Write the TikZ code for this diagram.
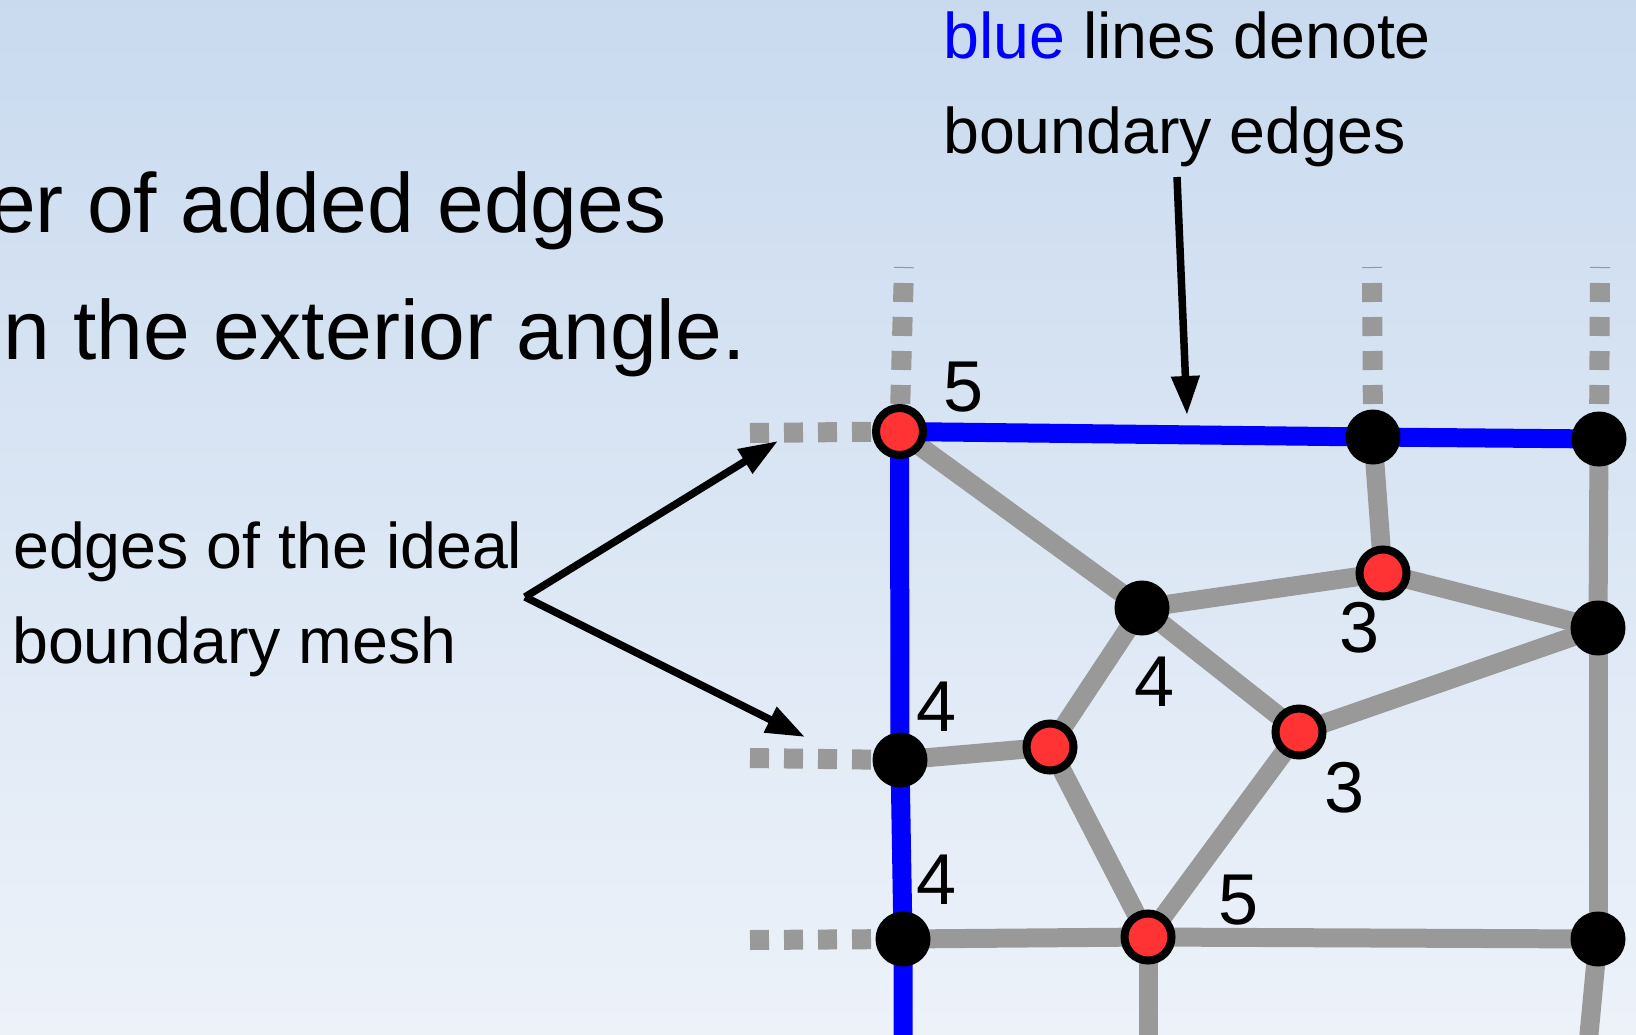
\documentclass[tikz,border=0pt]{standalone}
\usepackage{fontspec}
\setmainfont{Liberation Sans}
\usetikzlibrary{arrows.meta}
\definecolor{meshgray}{RGB}{153,153,153}
\definecolor{vtxred}{RGB}{255,51,51}
\definecolor{bdblue}{RGB}{0,0,255}
\definecolor{bgtop}{RGB}{201,218,239}
\definecolor{bgmid}{RGB}{223,231,242}
\definecolor{bgbot}{RGB}{237,242,249}
\pgfdeclarelayer{backdrop}
\pgfdeclarelayer{edges}
\pgfsetlayers{backdrop,edges,main}

\begin{document}
\begin{tikzpicture}[
    x=1pt, y=-1pt,
    black vtx/.style={circle, fill=black, inner sep=0pt, minimum size=55pt},
    red vtx/.style={circle, fill=vtxred, draw=black, line width=8pt, inner sep=0pt, minimum size=47pt},
    meshedge/.style={line width=19pt, meshgray},
    bndedge/.style={line width=19pt, bdblue},
    stub/.style={line width=20pt, meshgray, dash pattern=on 19pt off 15pt},
    num/.style={font=\fontsize{72}{72}\selectfont, inner sep=0pt},
    note/.style={font=\fontsize{64.5}{95}\selectfont, inner sep=0pt, anchor=base west},
    headline/.style={font=\fontsize{84}{100}\selectfont, inner sep=0pt, anchor=base west},
    pointer/.style={line width=7.5pt, -{Triangle[width=27pt,length=39pt]}}
]
    \useasboundingbox (0,0) rectangle (1636,1034);
    \begin{pgfonlayer}{backdrop}
        \shade[top color=bgtop, middle color=bgmid, bottom color=bgbot] (0,0) rectangle (1636,1034);
    \end{pgfonlayer}

    % mesh vertices
    \node[red vtx] (A) at (899.5,431.5) {};
    \node[black vtx] (B) at (1373,437) {};
    \node[black vtx] (C) at (1599,439) {};
    \node[red vtx] (D) at (1383,573) {};
    \node[black vtx] (E) at (1142,608) {};
    \node[black vtx] (F) at (1598,628) {};
    \node[red vtx] (G) at (1299,732) {};
    \node[black vtx] (H) at (900,760) {};
    \node[red vtx] (I) at (1050,747) {};
    \node[black vtx] (J) at (903,939) {};
    \node[red vtx] (K) at (1148,937) {};
    \node[black vtx] (L) at (1598,939) {};

    % free ends
    \coordinate (sA) at (904,267);
    \coordinate (sB) at (1372,267);
    \coordinate (sC) at (1600,267);
    \coordinate (wA) at (750,433);
    \coordinate (wH) at (750,758);
    \coordinate (wJ) at (750,940);
    \coordinate (jbot) at (903,1045);
    \coordinate (kbot) at (1148,1045);
    \coordinate (lbot) at (1588,1045);

    \begin{pgfonlayer}{edges}
        \foreach \u/\v in {A/E, B/D, C/F, D/E, D/F, E/I, E/G, G/F, H/I, I/K, G/K, J/K, K/L, F/L}
            \draw[meshedge] (\u.center) -- (\v.center);
        \draw[meshedge] (K.center) -- (kbot);
        \draw[meshedge] (L.center) -- (lbot);
        \draw[bndedge] (A.center) -- (B.center) -- (C.center);
        \draw[bndedge] (A.center) -- (H.center) -- (J.center) -- (jbot);
        \foreach \s/\v in {sA/A, sB/B, sC/C}
            \draw[stub, dash phase=18pt] (\s) -- (\v.center);
        \foreach \s/\v in {wA/A, wH/H, wJ/J}
            \draw[stub] (\s) -- (\v.center);
    \end{pgfonlayer}

    % valence numbers
    \node[num] (nA) at (964,387) {5};
    \node[num] (nH) at (937,707) {4};
    \node[num] (nJ) at (937,880) {4};
    \node[num] (nE) at (1155,682) {4};
    \node[num] (nD) at (1360,628) {3};
    \node[num] (nG) at (1345,788) {3};
    \node[num] (nK) at (1239,900) {5};

    % texts
    \node[headline] (ln1) at (-11,232) {er of added edges};
    \node[headline] (ln2) at (3,359) {n the exterior angle.};
    \node[note] (ideal1) at (13,568) {edges of the ideal};
    \node[note] (ideal2) at (12,663) {boundary mesh};
    \node[note] (bnd1) at (943,58) {\textcolor{bdblue}{blue} lines denote};
    \node[note] (bnd2) at (943,153) {boundary edges};

    % pointers
    \coordinate (fork) at (525,597);
    \coordinate (tipA) at (778,441);
    \coordinate (tipH) at (805,737);
    \coordinate (bndtail) at (1177,177);
    \coordinate (bndtip) at (1187,415);
    \draw[pointer] (fork) -- (tipA);
    \draw[pointer] (fork) -- (tipH);
    \draw[pointer] (bndtail) -- (bndtip);
\end{tikzpicture}
\end{document}
